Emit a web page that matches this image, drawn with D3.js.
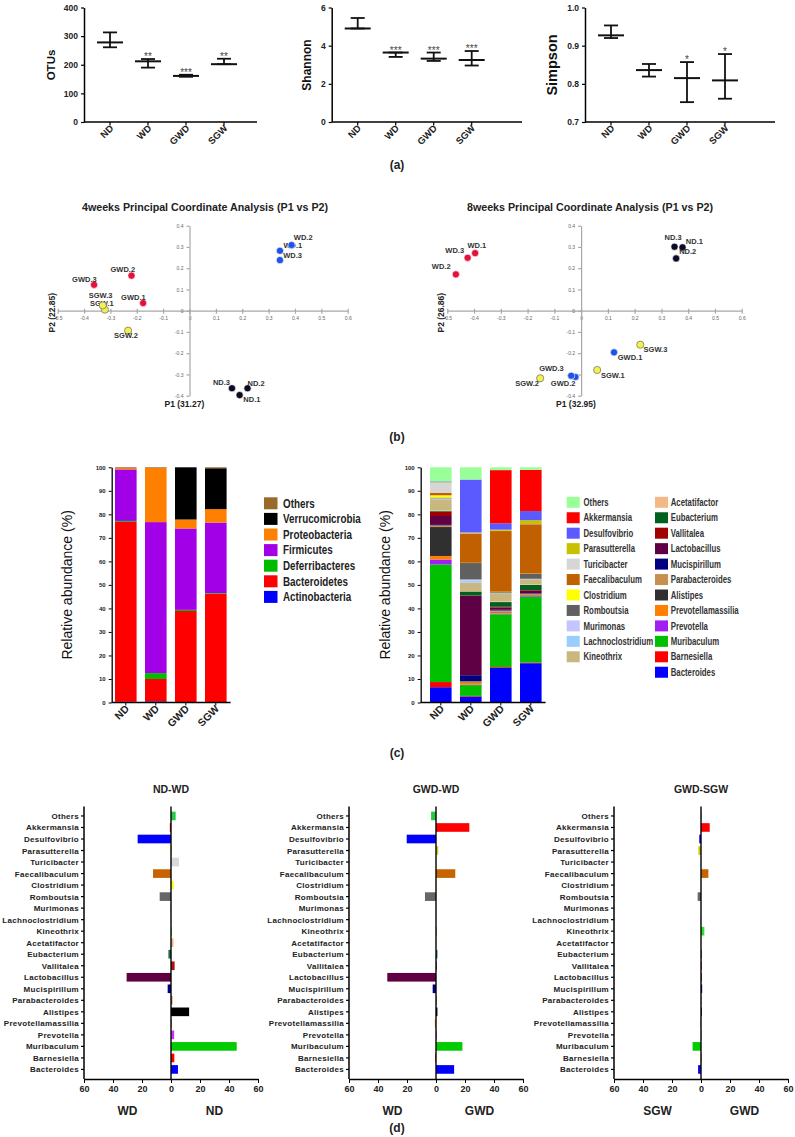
<!DOCTYPE html>
<html><head><meta charset="utf-8">
<script src="https://cdn.jsdelivr.net/npm/d3@7"></script>
<style>body{margin:0;background:#fff}svg{display:block}</style>
</head><body><svg id="c" width="795" height="1137"></svg>
<script>
// ---------------- DATA ----------------
const groups = ["ND", "WD", "GWD", "SGW"];
// (a) alpha diversity: mean, upper and lower error bar ends
const otuMean = [278, 212, 161, 202];
const otuHigh = [313, 220, 165, 221];
const otuLow = [261, 190, 158, 202];
const otuSig = ["", "**", "***", "**"];
const otuTicks = [0, 100, 200, 300, 400];
const shannonMean = [4.90, 3.64, 3.32, 3.25];
const shannonHigh = [5.45, 3.64, 3.64, 3.72];
const shannonLow = [4.90, 3.41, 3.20, 2.96];
const shannonSig = ["", "***", "***", "***"];
const shannonTicks = [0, 2, 4, 6];
const simpsonMean = [0.927, 0.836, 0.815, 0.809];
const simpsonHigh = [0.953, 0.852, 0.857, 0.878];
const simpsonLow = [0.920, 0.819, 0.752, 0.761];
const simpsonSig = ["", "", "*", "*"];
const simpsonTicks = [0.7, 0.8, 0.9, 1.0];

// (b) PCoA
const pcoaXTicks = [-0.5, -0.4, -0.3, -0.2, -0.1, 0, 0.1, 0.2, 0.3, 0.4, 0.5, 0.6];
const pcoaYTicks = [-0.4, -0.3, -0.2, -0.1, 0, 0.1, 0.2, 0.3, 0.4];
const samples = ["ND.1", "ND.2", "ND.3", "WD.1", "WD.2", "WD.3", "GWD.1", "GWD.2", "GWD.3", "SGW.1", "SGW.2", "SGW.3"];
const w4P1 = [0.190, 0.220, 0.161, 0.343, 0.387, 0.343, -0.176, -0.220, -0.362, -0.321, -0.233, -0.329];
const w4P2 = [-0.397, -0.365, -0.365, 0.282, 0.309, 0.238, 0.036, 0.165, 0.122, 0.005, -0.094, 0.025];
const w8P1 = [0.379, 0.355, 0.349, -0.396, -0.468, -0.424, 0.123, -0.021, -0.037, 0.060, -0.153, 0.221];
const w8P2 = [0.298, 0.246, 0.301, 0.271, 0.171, 0.249, -0.196, -0.312, -0.306, -0.279, -0.318, -0.160];

// (c) phylum composition (%), stacked bottom -> top
const phyla = ["Actinobacteria", "Bacteroidetes", "Deferribacteres", "Firmicutes", "Proteobacteria", "Verrucomicrobia", "Others"];
const phylumND = [0.3, 76.5, 0.4, 21.9, 0.6, 0, 0.3];
const phylumWD = [0.5, 9.5, 2.5, 64.2, 23.0, 0, 0.3];
const phylumGWD = [0.2, 38.7, 0.5, 34.6, 3.8, 22.2, 0];
const phylumSGW = [0.2, 46.0, 0.3, 30.0, 5.7, 17.4, 0.4];
// genus composition (%), stacked bottom -> top
const genera = ["Bacteroides", "Barnesiella", "Muribaculum", "Prevotella", "Prevotellamassilia", "Alistipes", "Parabacteroides", "Mucispirillum", "Lactobacillus", "Vallitalea", "Eubacterium", "Acetatifactor", "Kineothrix", "Lachnoclostridium", "Murimonas", "Romboutsia", "Clostridium", "Faecalibaculum", "Turicibacter", "Parasutterella", "Desulfovibrio", "Akkermansia", "Others"];
const genusND = [6.5, 2.2, 50.0, 2.1, 1.5, 12.3, 0.7, 0.2, 3.8, 1.8, 0.3, 0.3, 4.7, 0.2, 0.2, 0.3, 1.0, 1.0, 4.4, 0.2, 0.3, 0, 6.0];
const genusWD = [2.5, 0.3, 4.6, 0.2, 1.0, 0.2, 0.2, 2.6, 33.7, 0.2, 1.7, 0.2, 3.6, 0.8, 0.5, 7.0, 0.1, 12.5, 0.2, 0.2, 22.5, 0, 5.2];
const genusGWD = [14.8, 0.3, 22.4, 0.3, 0.5, 0.3, 0.5, 0.3, 1.0, 0.3, 2.0, 0.3, 3.5, 0.1, 0.1, 0.3, 0.1, 25.8, 0.1, 0.5, 2.7, 22.6, 1.2];
const genusSGW = [16.7, 0.3, 28.0, 0.3, 0.3, 0.3, 0.3, 0.2, 1.1, 0.3, 2.2, 0.2, 2.2, 0.1, 0.1, 2.1, 0.1, 21.0, 0.1, 1.6, 3.9, 17.5, 1.1];
const legendCol1 = ["Others", "Akkermansia", "Desulfovibrio", "Parasutterella", "Turicibacter", "Faecalibaculum", "Clostridium", "Romboutsia", "Murimonas", "Lachnoclostridium", "Kineothrix"];
const legendCol2 = ["Acetatifactor", "Eubacterium", "Vallitalea", "Lactobacillus", "Mucispirillum", "Parabacteroides", "Alistipes", "Prevotellamassilia", "Prevotella", "Muribaculum", "Barnesiella", "Bacteroides"];

// (d) differences in genus abundance (%), negative = left group
const generaD = ["Others", "Akkermansia", "Desulfovibrio", "Parasutterella", "Turicibacter", "Faecalibaculum", "Clostridium", "Romboutsia", "Murimonas", "Lachnoclostridium", "Kineothrix", "Acetatifactor", "Eubacterium", "Vallitalea", "Lactobacillus", "Mucispirillum", "Parabacteroides", "Alistipes", "Prevotellamassilia", "Prevotella", "Muribaculum", "Barnesiella", "Bacteroides"];
const diffNDWD = [3.2, -0.8, -23.0, 0.5, 5.5, -12.4, 1.8, -7.8, -0.3, 0.2, 0.5, 1.7, -1.8, 2.5, -30.6, -2.3, 1.0, 12.5, 0.7, 2.2, 45.3, 2.3, 4.8];
const diffGWDWD = [-3.4, 23.0, -20.2, 1.5, 0.1, 13.3, 0.3, -7.6, 0.1, 0.1, 0.5, 0.3, 1.0, 0.5, -33.6, -2.3, 0.5, 1.0, -0.8, 0.5, 18.2, -0.5, 12.5];
const diffGWDSGW = [0.3, 6.0, -1.2, -1.8, 0, 5.1, 0.2, -2.3, 0, -0.3, 2.3, 0, 0.5, 0.5, 0.5, 0.8, 0.3, 0.5, -0.4, 0.3, -5.8, 0.3, -2.0];
const diffTicks = [-60, -40, -20, 0, 20, 40, 60];

// ---------------- STYLE ----------------
const F = "'Liberation Sans', Arial, sans-serif";
const phylumColors = {Others:"#9c6a28", Verrucomicrobia:"#000000", Proteobacteria:"#ff8000", Firmicutes:"#a200e6", Deferribacteres:"#00bb00", Bacteroidetes:"#ff0000", Actinobacteria:"#0000ff"};
const genusColors = {Others:"#99ff99", Akkermansia:"#ff0000", Desulfovibrio:"#5a5aff", Parasutterella:"#c8c000", Turicibacter:"#d6d6d6", Faecalibaculum:"#c06000", Clostridium:"#ffff00", Romboutsia:"#606060", Murimonas:"#c4c4ff", Lachnoclostridium:"#99ccff", Kineothrix:"#c8b880", Acetatifactor:"#f4b886", Eubacterium:"#006020", Vallitalea:"#a00000", Lactobacillus:"#600044", Mucispirillum:"#000080", Parabacteroides:"#c89050", Alistipes:"#303030", Prevotellamassilia:"#ff8000", Prevotella:"#a020f0", Muribaculum:"#00c000", Barnesiella:"#ff0000", Bacteroides:"#0000ff"};
const diffColors = {Others:"#22cc44", Akkermansia:"#ff0000", Desulfovibrio:"#0000ff", Parasutterella:"#cccc00", Turicibacter:"#d9d9d9", Faecalibaculum:"#c86400", Clostridium:"#ffff00", Romboutsia:"#666666", Murimonas:"#9999ff", Lachnoclostridium:"#99ccff", Kineothrix:"#33dd33", Acetatifactor:"#f4b183", Eubacterium:"#1f6f3f", Vallitalea:"#b01010", Lactobacillus:"#600040", Mucispirillum:"#000080", Parabacteroides:"#c08040", Alistipes:"#000000", Prevotellamassilia:"#ff9933", Prevotella:"#cc33ff", Muribaculum:"#00cc00", Barnesiella:"#ff0000", Bacteroides:"#0000ff"};

const svg = d3.select("#c");
svg.append("rect").attr("width",795).attr("height",1137).attr("fill","#fff");

// ---------------- (a) ----------------
const alphaSpecs = [
  {name:"OTUs", mean:otuMean, hi:otuHigh, lo:otuLow, sig:otuSig, dom:[0,400], ticks:otuTicks, fmt:d3.format("d"), left:84, right:257, titleX:55, titleSize:11.5},
  {name:"Shannon", mean:shannonMean, hi:shannonHigh, lo:shannonLow, sig:shannonSig, dom:[0,6], ticks:shannonTicks, fmt:d3.format("d"), left:331.7, right:522, titleX:311, titleSize:12},
  {name:"Simpson", mean:simpsonMean, hi:simpsonHigh, lo:simpsonLow, sig:simpsonSig, dom:[0.7,1.0], ticks:simpsonTicks, fmt:d3.format(".1f"), left:585, right:775, titleX:557, titleSize:14.5}
];
alphaSpecs.forEach(s => {
  const y = d3.scaleLinear().domain(s.dom).range([122, 7.5]);
  const x = d3.scalePoint().domain(groups).range([s.left + 26, s.left + 26 + 3 * 38]);
  const g = svg.append("g");
  const ya = g.append("g").attr("transform", `translate(${s.left},0)`)
    .call(d3.axisLeft(y).tickValues(s.ticks).tickFormat(s.fmt).tickSize(3).tickSizeOuter(0))
    .attr("font-family", F).attr("font-size", 8.5).attr("font-weight", "bold");
  ya.select(".domain").attr("stroke-width", 1.5);
  ya.selectAll(".tick line").attr("stroke-width", 1.2);
  ya.selectAll("text").attr("fill", "#222");
  g.append("line").attr("x1", s.left).attr("x2", s.right).attr("y1", 122).attr("y2", 122)
    .attr("stroke", "#000").attr("stroke-width", 1.5);
  groups.forEach((k, i) => {
    const cx = x(k);
    g.append("line").attr("x1", cx).attr("x2", cx).attr("y1", 122).attr("y2", 125.5).attr("stroke", "#000").attr("stroke-width", 1.2);
    g.append("text").attr("transform", `translate(${cx + 4},129) rotate(-45)`).attr("text-anchor", "end")
      .attr("font-family", F).attr("font-size", 9.5).attr("font-weight", "bold").attr("fill", "#222").text(k);
    const eb = g.append("g").attr("stroke", "#111").attr("stroke-width", 1.8);
    eb.append("line").attr("x1", cx).attr("x2", cx).attr("y1", y(s.lo[i])).attr("y2", y(s.hi[i]));
    eb.append("line").attr("x1", cx - 7).attr("x2", cx + 7).attr("y1", y(s.hi[i])).attr("y2", y(s.hi[i]));
    eb.append("line").attr("x1", cx - 7).attr("x2", cx + 7).attr("y1", y(s.lo[i])).attr("y2", y(s.lo[i]));
    eb.append("line").attr("x1", cx - 13).attr("x2", cx + 13).attr("y1", y(s.mean[i])).attr("y2", y(s.mean[i])).attr("stroke-width", 2);
    if (s.sig[i]) g.append("text").attr("x", cx).attr("y", y(s.hi[i]) + 1).attr("text-anchor", "middle")
      .attr("font-family", F).attr("font-size", 10).attr("fill", "#444").text(s.sig[i]);
  });
  g.append("text").attr("transform", `translate(${s.titleX},65) rotate(-90)`).attr("text-anchor", "middle")
    .attr("font-family", F).attr("font-size", s.titleSize).attr("font-weight", "bold").attr("fill", "#111").text(s.name);
});

// ---------------- (b) ----------------
const pcoaSpecs = [
  {title:"4weeks Principal Coordinate Analysis (P1 vs P2)", tx:205, xr:[57.7, 347.7], p1:w4P1, p2:w4P2,
   colors:{ND:"#0b0b28", WD:"#1f52e6", GWD:"#e3123a", SGW:"#f2f24a"}, xlab:"P1 (31.27)", ylab:"P2 (22.85)",
   off:[[3.7,7.3],[0,-2],[-19,-3.7],[3.5,-2.5],[2.3,-5],[3.3,-2.3],[-22,-3],[-21,-3.7],[-22,-3],[-15,-3.5],[-14,7.7],[-14,-7.5]]},
  {title:"8weeks Principal Coordinate Analysis (P1 vs P2)", tx:590, xr:[447.3, 741.7], p1:w8P1, p2:w8P2,
   colors:{ND:"#0b0b28", WD:"#e3123a", GWD:"#1f52e6", SGW:"#f2f24a"}, xlab:"P1 (32.95)", ylab:"P2 (26.86)",
   off:[[3.3,-3.3],[3,-4.7],[-10,-6.7],[-7.7,-5],[-24,-5.7],[-22.3,-4.7],[3.7,7.7],[-24.7,9.3],[-32,-4.7],[3.7,7.7],[-25,8],[3.3,7]]}
];
const tfmt = d => String(+d.toFixed(1));
pcoaSpecs.forEach(s => {
  const x = d3.scaleLinear().domain([-0.5, 0.6]).range(s.xr);
  const y = d3.scaleLinear().domain([-0.4, 0.4]).range([395.7, 225.7]);
  const g = svg.append("g");
  const xa = g.append("g").attr("transform", `translate(0,${y(0)})`)
    .call(d3.axisBottom(x).tickValues(pcoaXTicks).tickFormat(tfmt).tickSize(3).tickSizeOuter(0))
    .attr("font-family", F).attr("font-size", 5);
  const ya = g.append("g").attr("transform", `translate(${x(0)},0)`)
    .call(d3.axisLeft(y).tickValues(pcoaYTicks).tickFormat(tfmt).tickSize(3).tickSizeOuter(0))
    .attr("font-family", F).attr("font-size", 5);
  [xa, ya].forEach(a => {
    a.selectAll(".domain, .tick line").attr("stroke", "#a8a8a8").attr("stroke-width", 1.2);
    a.selectAll("text").attr("fill", "#666");
  });
  xa.selectAll(".tick line").attr("y1", -2);
  g.append("text").attr("x", s.tx).attr("y", 211).attr("text-anchor", "middle").attr("font-family", F)
    .attr("font-size", 10.7).attr("font-weight", "bold").attr("fill", "#222").text(s.title);
  g.append("text").attr("x", x(0) - 25).attr("y", 407).attr("font-family", F)
    .attr("font-size", 8.5).attr("font-weight", "bold").attr("fill", "#222").text(s.xlab);
  g.append("text").attr("transform", `translate(${x(-0.5) - 3},${y(0) + 2}) rotate(-90)`).attr("text-anchor", "middle")
    .attr("font-family", F).attr("font-size", 8.5).attr("font-weight", "bold").attr("fill", "#222").text(s.ylab);
  samples.forEach((name, i) => {
    const grp = name.split(".")[0];
    const px = x(s.p1[i]), py = y(s.p2[i]);
    g.append("circle").attr("cx", px).attr("cy", py).attr("r", 3.6).attr("fill", s.colors[grp])
      .attr("stroke", grp === "SGW" ? "#777" : "#fff").attr("stroke-width", grp === "SGW" ? 0.8 : 0.6);
    g.append("text").attr("x", px + s.off[i][0]).attr("y", py + s.off[i][1]).attr("font-family", F)
      .attr("font-size", 7.5).attr("font-weight", "bold").attr("fill", "#333").text(name);
  });
});

// ---------------- (c) ----------------
const cY = d3.scaleLinear().domain([0, 100]).range([702.5, 467.3]);
function stackChart(o) {
  const x = d3.scaleBand().domain(groups).range(o.xr).paddingInner(0.28).paddingOuter(0.1);
  const rows = groups.map((gname, i) => { const r = {group:gname}; o.keys.forEach((k, j) => r[k] = o.values[i][j]); return r; });
  const series = d3.stack().keys(o.keys)(rows);
  const g = svg.append("g");
  g.append("g").selectAll("g").data(series).join("g").attr("fill", d => o.colors[d.key])
    .selectAll("rect").data(d => d).join("rect")
    .attr("x", d => x(d.data.group)).attr("width", x.bandwidth())
    .attr("y", d => cY(d[1])).attr("height", d => Math.max(0, cY(d[0]) - cY(d[1])));
  const ya = g.append("g").attr("transform", `translate(${o.axisX},0)`)
    .call(d3.axisLeft(cY).ticks(10).tickSize(3).tickSizeOuter(0))
    .attr("font-family", F).attr("font-size", 6).attr("font-weight", "bold");
  ya.select(".domain").attr("stroke-width", 1.3);
  ya.selectAll("text").attr("fill", "#222");
  g.append("line").attr("x1", o.axisX).attr("x2", o.xr[1] + 1).attr("y1", cY(0)).attr("y2", cY(0))
    .attr("stroke", "#000").attr("stroke-width", 1.3);
  groups.forEach(k => {
    const cx = x(k) + x.bandwidth() / 2;
    g.append("line").attr("x1", cx).attr("x2", cx).attr("y1", cY(0)).attr("y2", cY(0) + 3).attr("stroke", "#000");
    g.append("text").attr("transform", `translate(${cx + 4},${cY(0) + 7}) rotate(-45)`).attr("text-anchor", "end")
      .attr("font-family", F).attr("font-size", 10.5).attr("font-weight", "bold").attr("fill", "#222").text(k);
  });
  g.append("text").attr("transform", `translate(${o.titleX},${cY(50)}) rotate(-90)`).attr("text-anchor", "middle")
    .attr("font-family", F).attr("font-size", 14).attr("fill", "#111").text("Relative abundance (%)");
}
stackChart({keys:phyla, values:[phylumND, phylumWD, phylumGWD, phylumSGW], colors:phylumColors, axisX:111.7, xr:[112, 229.6], titleX:72});
stackChart({keys:genera, values:[genusND, genusWD, genusGWD, genusSGW], colors:genusColors, axisX:420.7, xr:[427, 544.6], titleX:390});

// phylum legend (condensed text)
const legP = svg.append("g");
phyla.slice().reverse().forEach((k, i) => {
  const yy = 503.3 + i * 15.6;
  legP.append("rect").attr("x", 264).attr("y", yy - 6).attr("width", 13.5).attr("height", 12).attr("fill", phylumColors[k]);
  legP.append("text").attr("transform", `translate(283,${yy + 4.3}) scale(0.82,1)`).attr("font-family", F).attr("font-size", 12)
    .attr("font-weight", "bold").attr("fill", "#222").text(k);
});
// genus legend (condensed text)
const legG = svg.append("g");
[[legendCol1, 566.7, 583.5], [legendCol2, 655, 670.7]].forEach(([col, rx, tx]) => {
  col.forEach((k, i) => {
    const yy = 502.3 + i * 15.45;
    legG.append("rect").attr("x", rx).attr("y", yy - 5.5).attr("width", 13).attr("height", 11).attr("fill", genusColors[k]);
    legG.append("text").attr("transform", `translate(${tx},${yy + 3.6}) scale(0.78,1)`).attr("font-family", F).attr("font-size", 10)
      .attr("font-weight", "bold").attr("fill", "#333").text(k);
  });
});

// ---------------- (d) ----------------
const dSpecs = [
  {title:"ND-WD", values:diffNDWD, left:84, l:"WD", r:"ND"},
  {title:"GWD-WD", values:diffGWDWD, left:349, l:"WD", r:"GWD"},
  {title:"GWD-SGW", values:diffGWDSGW, left:614, l:"SGW", r:"GWD"}
];
const dY = d3.scaleBand().domain(generaD).range([810.2, 1075.2]).paddingInner(0.25).paddingOuter(0.125);
dSpecs.forEach(s => {
  const x = d3.scaleLinear().domain([-60, 60]).range([s.left, s.left + 174]);
  const g = svg.append("g");
  g.selectAll("rect").data(generaD).join("rect")
    .attr("x", (k, i) => x(Math.min(0, s.values[i])))
    .attr("width", (k, i) => Math.abs(x(s.values[i]) - x(0)))
    .attr("y", k => dY(k)).attr("height", dY.bandwidth())
    .attr("fill", k => diffColors[k]);
  g.append("line").attr("x1", s.left).attr("x2", s.left).attr("y1", 806.5).attr("y2", 1079).attr("stroke", "#000").attr("stroke-width", 1.5);
  generaD.forEach(k => {
    const cy = dY(k) + dY.bandwidth() / 2;
    g.append("line").attr("x1", s.left - 3).attr("x2", s.left).attr("y1", cy).attr("y2", cy).attr("stroke", "#000").attr("stroke-width", 1.2);
    g.append("text").attr("x", s.left - 5).attr("y", cy + 3).attr("text-anchor", "end").attr("font-family", F)
      .attr("font-size", 8).attr("font-weight", "bold").attr("letter-spacing", 0.3).attr("fill", "#222").text(k);
  });
  g.append("line").attr("x1", x(0)).attr("x2", x(0)).attr("y1", 806.5).attr("y2", 1079).attr("stroke", "#000").attr("stroke-width", 1.4);
  const xa = g.append("g").attr("transform", "translate(0,1079)")
    .call(d3.axisBottom(x).tickValues(diffTicks).tickFormat(d => Math.abs(d)).tickSize(4).tickSizeOuter(0))
    .attr("font-family", F).attr("font-size", 9).attr("font-weight", "bold");
  xa.select(".domain").attr("stroke-width", 1.5);
  xa.selectAll("text").attr("fill", "#222");
  g.append("text").attr("x", x(0)).attr("y", 793).attr("text-anchor", "middle").attr("font-family", F)
    .attr("font-size", 10.5).attr("font-weight", "bold").attr("fill", "#222").text(s.title);
  g.append("text").attr("x", x(-30)).attr("y", 1115).attr("text-anchor", "middle").attr("font-family", F)
    .attr("font-size", 12).attr("font-weight", "bold").attr("fill", "#222").text(s.l);
  g.append("text").attr("x", x(30)).attr("y", 1115).attr("text-anchor", "middle").attr("font-family", F)
    .attr("font-size", 12).attr("font-weight", "bold").attr("fill", "#222").text(s.r);
});

// panel labels
[["(a)", 169], ["(b)", 441], ["(c)", 757], ["(d)", 1132]].forEach(([t, yy]) => {
  svg.append("text").attr("x", 397).attr("y", yy).attr("text-anchor", "middle").attr("font-family", F)
    .attr("font-size", 12).attr("font-weight", "bold").attr("fill", "#222").text(t);
});
</script>
</body></html>
